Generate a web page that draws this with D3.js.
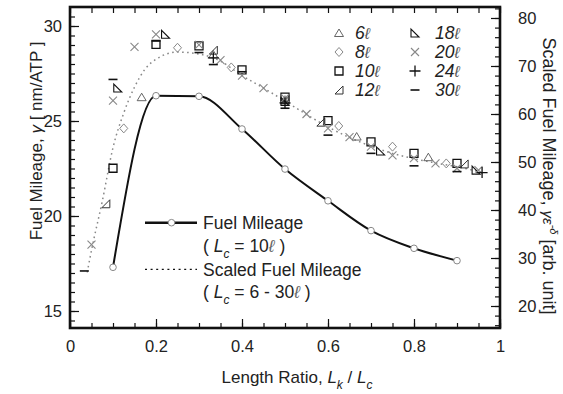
<!DOCTYPE html>
<html>
<head>
<meta charset="utf-8">
<script src="https://cdn.jsdelivr.net/npm/d3@7"></script>
<style>
  html, body { margin: 0; padding: 0; background: #fff; }
  svg { display: block; font-family: 'Liberation Sans', Arial, sans-serif; }
</style>
</head>
<body>
<svg id="chart"></svg>
<script>
// fuel mileage, Lc = 10 (left axis)
const fuelX = [0.1, 0.2, 0.3, 0.4, 0.5, 0.6, 0.7, 0.8, 0.9]
const fuelY = [17.3, 26.33, 26.3, 24.58, 22.47, 20.8, 19.23, 18.3, 17.65]

// scaled fit, Lc = 6 - 30 (right axis)
const fitX = [0.04, 0.05, 0.075, 0.1, 0.125, 0.15, 0.175, 0.2, 0.25, 0.3, 0.35, 0.4, 0.45, 0.5, 0.55, 0.6, 0.65, 0.7, 0.75, 0.8, 0.85, 0.9, 0.96]
const fitY = [27.0, 31.6, 41.8, 53.0, 60.2, 65.6, 69.4, 71.4, 72.9, 72.5, 71.0, 68.0, 65.4, 62.7, 59.9, 57.3, 55.1, 53.3, 51.8, 50.7, 49.8, 49.0, 47.8]

// scaled points per Lc: [Lk/Lc, value]
const pts6 = [[1 / 6, 63.5], [2 / 6, 72.4], [3 / 6, 62.8], [4 / 6, 55.3], [5 / 6, 51.0]]
const pts8 = [[1 / 8, 57.0], [2 / 8, 73.8], [3 / 8, 69.7], [4 / 8, 62.9], [5 / 8, 57.5], [6 / 8, 53.2], [7 / 8, 49.7]]
const pts10 = [[0.1, 48.7], [0.2, 74.5], [0.3, 74.2], [0.4, 69.2], [0.5, 63.5], [0.6, 58.6], [0.7, 54.2], [0.8, 51.8], [0.9, 49.7]]
const pts12 = [[1 / 12, 41.3], [4 / 12, 73.3], [6 / 12, 63.0], [7 / 12, 58.3], [11 / 12, 49.6]]
const pts18 = [[2 / 18, 65.4], [4 / 18, 76.6], [9 / 18, 62.6], [13 / 18, 52.3], [17 / 18, 48.3]]
const pts20 = [[0.05, 32.8], [0.1, 62.8], [0.15, 74.0], [0.2, 76.6], [0.3, 74.4], [0.35, 71.2], [0.4, 68.0], [0.45, 65.4], [0.5, 63.3], [0.55, 60.0], [0.6, 57.0], [0.65, 55.2], [0.7, 53.2], [0.75, 51.4], [0.8, 50.8], [0.85, 49.7], [0.9, 48.7], [0.95, 48.3]]
const pts24 = [[8 / 24, 71.7], [12 / 24, 62.3], [23 / 24, 47.8]]
const pts30 = [[1 / 30, 27.3], [3 / 30, 67.2], [6 / 30, 75.2], [9 / 30, 72.8], [10 / 30, 70.3], [12 / 30, 68.8], [15 / 30, 61.2], [18 / 30, 55.6], [21 / 30, 51.8], [24 / 30, 49.2], [27 / 30, 48.0]]

const seriesNames = ['6', '8', '10', '12', '18', '20', '24', '30']
const seriesPts = [pts6, pts8, pts10, pts12, pts18, pts20, pts24, pts30]

const xTicks = [0, 0.2, 0.4, 0.6, 0.8, 1]
const leftTicks = [15, 20, 25, 30]
const rightTicks = [20, 30, 40, 50, 60, 70, 80]

const w = 563
const h = 394
const plotL = 70
const plotR = 500
const plotT = 7
const plotB = 328

const symbols = {
  '6': { d: 'M0,-4L4.5,3.5L-4.5,3.5Z', c: '#555', sw: 0.9 },
  '8': { d: 'M0,-4.5L4,0L0,4.5L-4,0Z', c: '#888', sw: 1 },
  '10': { d: 'M-4,-4H4V4H-4Z', c: '#111', sw: 1.3 },
  '12': { d: 'M4,-4L4,4L-4,4Z', c: '#333', sw: 1 },
  '18': { d: 'M-4,-4L-4,4L4,4Z', c: '#111', sw: 1.1 },
  '20': { d: 'M-4,-4L4,4M4,-4L-4,4', c: '#888', sw: 1.1 },
  '24': { d: 'M-5.5,0H5.5M0,-5.5V5.5', c: '#111', sw: 1.3 },
  '30': { d: 'M-4.5,0H4.5', c: '#111', sw: 1.6 },
}

const svg = d3.select('#chart').attr('width', w).attr('height', h)

const xScale = d3.scaleLinear().domain([0, 1]).range([plotL, plotR])
const yLeft = d3.scaleLinear().domain([14.105, 31]).range([plotB, plotT])
const yRight = d3.scaleLinear().domain([15.417, 82.29]).range([plotB, plotT])

drawAxes()
drawCurves()
drawPoints()
drawLegends()
drawTitles()

function styleAxis(g, fs) {
  g.select('.domain').remove()
  g.selectAll('line').attr('stroke', '#111').attr('stroke-width', 1.2)
  g.selectAll('text')
    .attr('fill', '#222')
    .style('font-size', fs + 'px')
    .style('font-family', "'Liberation Sans', Arial, sans-serif")
}

function drawAxes() {
  const xMinor = d3.range(0, 1.0001, 0.05)
  const lMinor = d3.range(14.5, 31, 0.5)
  const rMinor = d3.range(16, 82.5, 2)

  svg.append('g').attr('transform', `translate(0,${plotB})`)
    .call(d3.axisBottom(xScale).tickValues(xMinor).tickSize(-5).tickFormat(''))
    .call((g) => styleAxis(g, 16))
  svg.append('g').attr('transform', `translate(0,${plotB})`)
    .call(d3.axisBottom(xScale).tickValues(xTicks).tickSize(-9).tickPadding(12.5).tickFormat(d3.format('~g')))
    .call((g) => styleAxis(g, 16.5))
  svg.append('g').attr('transform', `translate(0,${plotT})`)
    .call(d3.axisTop(xScale).tickValues(xMinor).tickSize(-6).tickFormat(''))
    .call((g) => styleAxis(g, 16))

  svg.append('g').attr('transform', `translate(${plotL},0)`)
    .call(d3.axisLeft(yLeft).tickValues(lMinor).tickSize(-5).tickFormat(''))
    .call((g) => styleAxis(g, 16))
  svg.append('g').attr('transform', `translate(${plotL},0)`)
    .call(d3.axisLeft(yLeft).tickValues(leftTicks).tickSize(-9).tickPadding(8))
    .call((g) => styleAxis(g, 16.5))

  svg.append('g').attr('transform', `translate(${plotR},0)`)
    .call(d3.axisRight(yRight).tickValues(rMinor).tickSize(-5).tickFormat(''))
    .call((g) => styleAxis(g, 16))
  svg.append('g').attr('transform', `translate(${plotR},0)`)
    .call(d3.axisRight(yRight).tickValues(rightTicks).tickSize(-9).tickPadding(18))
    .call((g) => styleAxis(g, 16.5))

  svg.append('rect')
    .attr('x', plotL).attr('y', plotT)
    .attr('width', plotR - plotL).attr('height', plotB - plotT)
    .attr('fill', 'none').attr('stroke', '#111').attr('stroke-width', 2.6)
}

function drawCurves() {
  const fit = fitX.map((x, i) => [x, fitY[i]])
  const fuel = fuelX.map((x, i) => [x, fuelY[i]])

  svg.append('path')
    .datum(fit)
    .attr('fill', 'none')
    .attr('stroke', '#888')
    .attr('stroke-width', 1.5)
    .attr('stroke-dasharray', '1.6,3.4')
    .attr('d', d3.line().x((d) => xScale(d[0])).y((d) => yRight(d[1])).curve(d3.curveMonotoneX))

  svg.append('path')
    .datum(fuel)
    .attr('fill', 'none')
    .attr('stroke', '#111')
    .attr('stroke-width', 2)
    .attr('d', d3.line().x((d) => xScale(d[0])).y((d) => yLeft(d[1])).curve(d3.curveMonotoneX))

  svg.selectAll('circle.fuel')
    .data(fuel)
    .enter()
    .append('circle')
    .attr('class', 'fuel')
    .attr('cx', (d) => xScale(d[0]))
    .attr('cy', (d) => yLeft(d[1]))
    .attr('r', 3.3)
    .attr('fill', '#fff')
    .attr('stroke', '#888')
    .attr('stroke-width', 1)
}

function drawPoints() {
  seriesNames.forEach((name, i) => {
    const s = symbols[name]
    svg.append('g')
      .selectAll('path')
      .data(seriesPts[i])
      .enter()
      .append('path')
      .attr('transform', (d) => `translate(${xScale(d[0])},${yRight(d[1])})`)
      .attr('d', s.d)
      .attr('fill', 'none')
      .attr('stroke', s.c)
      .attr('stroke-width', s.sw)
  })
}

function drawLegends() {
  // marker legend, two columns
  const lg = svg.append('g')
  seriesNames.forEach((name, i) => {
    const col = Math.floor(i / 4)
    const row = i % 4
    const mx = col === 0 ? 339 : 415
    const tx = col === 0 ? 355 : 435
    const y = 33 + row * 19
    const s = symbols[name]
    lg.append('path')
      .attr('transform', `translate(${mx},${y})`)
      .attr('d', s.d)
      .attr('fill', 'none')
      .attr('stroke', s.c)
      .attr('stroke-width', s.sw)
    const t = lg.append('text')
      .attr('x', tx).attr('y', y + 6)
      .attr('fill', '#222')
      .style('font-size', '17.5px')
      .style('font-style', 'italic')
    t.append('tspan').text(name)
    t.append('tspan').attr('fill', '#555').style('font-size', '16px').text('ℓ')
  })

  // line legend
  const bl = svg.append('g')
  bl.append('line')
    .attr('x1', 145).attr('x2', 197).attr('y1', 222.7).attr('y2', 222.7)
    .attr('stroke', '#111').attr('stroke-width', 2.4)
  bl.append('circle')
    .attr('cx', 171.5).attr('cy', 222.7).attr('r', 3.3)
    .attr('fill', '#fff').attr('stroke', '#888')
  bl.append('line')
    .attr('x1', 145).attr('x2', 197).attr('y1', 269.3).attr('y2', 269.3)
    .attr('stroke', '#111').attr('stroke-width', 1.3)
    .attr('stroke-dasharray', '2,3.6')

  const lines = [
    { y: 229, parts: [['Fuel Mileage']] },
    { y: 252, parts: [['( '], ['L', 'i'], ['c', 's'], [' = 10'], ['ℓ', 'l'], [' )']] },
    { y: 275.5, parts: [['Scaled Fuel Mileage']] },
    { y: 298, parts: [['( '], ['L', 'i'], ['c', 's'], [' = 6 - 30'], ['ℓ', 'l'], [' )']] },
  ]
  lines.forEach((ln) => {
    const t = bl.append('text').attr('x', 203).attr('y', ln.y)
      .attr('fill', '#222').style('font-size', '17.5px')
    let lift = 0
    ln.parts.forEach((p) => {
      const sp = t.append('tspan').text(p[0])
      if (lift) { sp.attr('dy', -lift); lift = 0 }
      if (p[1] === 'i') sp.style('font-style', 'italic')
      if (p[1] === 's') {
        sp.style('font-style', 'italic').style('font-size', '12px').attr('dy', 6)
        lift = 6
      }
      if (p[1] === 'l') sp.style('font-style', 'italic').attr('fill', '#666')
    })
  })
}

function drawTitles() {
  // x title
  const xt = svg.append('text')
    .attr('x', 297).attr('y', 383)
    .attr('text-anchor', 'middle')
    .attr('fill', '#222')
    .style('font-size', '17px')
  xt.append('tspan').text('Length Ratio, ')
  xt.append('tspan').style('font-style', 'italic').text('L')
  xt.append('tspan').style('font-style', 'italic').style('font-size', '12px').attr('dy', 6).text('k')
  xt.append('tspan').attr('dy', -6).text(' / ')
  xt.append('tspan').style('font-style', 'italic').text('L')
  xt.append('tspan').style('font-style', 'italic').style('font-size', '12px').attr('dy', 6).text('c')

  // left title
  const lt = svg.append('text')
    .attr('transform', 'translate(42,141) rotate(-90)')
    .attr('text-anchor', 'middle')
    .attr('fill', '#222')
    .style('font-size', '17px')
  lt.append('tspan').text('Fuel Mileage, ')
  lt.append('tspan').style('font-style', 'italic').text('γ')
  lt.append('tspan').text(' [ nm/ATP ]')

  // right title
  const rt = svg.append('text')
    .attr('transform', 'translate(543,176) rotate(90)')
    .attr('text-anchor', 'middle')
    .attr('fill', '#222')
    .style('font-size', '18px')
  rt.append('tspan').text('Scaled Fuel Mileage, ')
  rt.append('tspan').style('font-style', 'italic').style('font-size', '15px').text('γε')
  rt.append('tspan').style('font-style', 'italic').style('font-size', '11px').attr('dy', -7).text('-δ')
  rt.append('tspan').attr('dy', 7).text('  [arb. unit]')
}
</script>
</body>
</html>
